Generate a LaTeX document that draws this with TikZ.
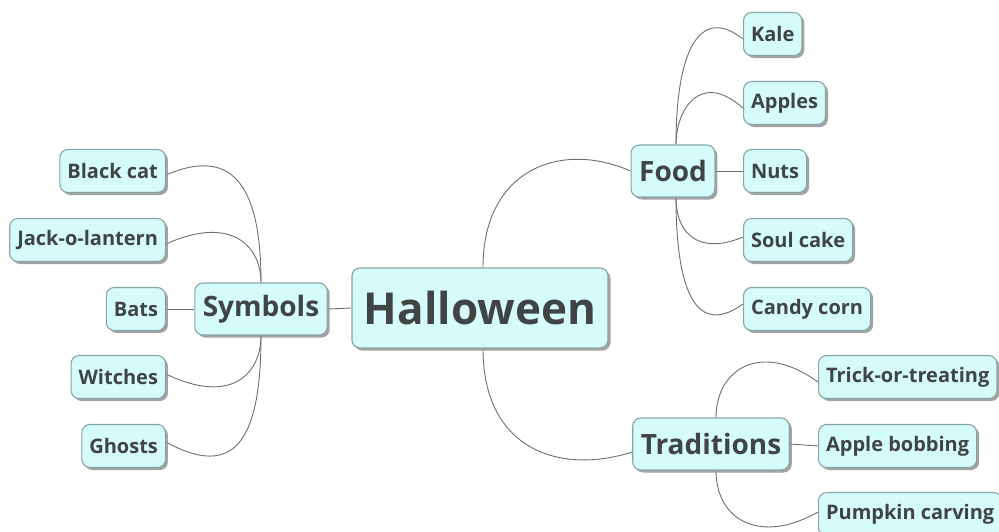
\documentclass[tikz,border=0pt]{standalone}
\usepackage{fontspec}
\setmainfont{Open Sans}
\usetikzlibrary{shadows,backgrounds}
\definecolor{boxfill}{HTML}{D6FBFB}
\definecolor{boxline}{HTML}{86A6A6}
\definecolor{txt}{HTML}{404444}
\definecolor{conn}{HTML}{6E6E6E}
\tikzset{
  box/.style={draw=boxline, fill=boxfill, line width=1.1pt, rounded corners=8pt,
    text=txt, font=\bfseries, inner ysep=0pt,
    drop shadow={shadow xshift=2.5pt, shadow yshift=-2.5pt, fill=black!45, opacity=0.8}},
  root/.style={box, font=\fontsize{44}{48}\bfseries\selectfont, minimum height=80pt, inner xsep=12pt},
  mainb/.style={box, font=\fontsize{28}{31}\bfseries\selectfont, minimum height=52pt, inner xsep=8pt},
  leaf/.style={box, font=\fontsize{20}{23}\bfseries\selectfont, minimum height=43pt, inner xsep=7.5pt},
  link/.style={draw=conn, line width=0.9pt}
}
\begin{document}
\begin{tikzpicture}[x=1pt,y=-1pt]
\useasboundingbox (0,0) rectangle (999,531);
\node[root] (hal) at (480,308) {Halloween};
\node[mainb] (sym) at (261,309) {Symbols};
\node[mainb] (food) at (673,171) {Food};
\node[mainb] (trad) at (711,444) {Traditions};

\node[leaf, anchor=east] (cat) at (166,171) {Black cat};
\node[leaf, anchor=east] (jack) at (166,240) {Jack-o-lantern};
\node[leaf, anchor=east] (bats) at (166,309) {Bats};
\node[leaf, anchor=east] (witch) at (166,377) {Witches};
\node[leaf, anchor=east] (ghost) at (166,446) {Ghosts};

\node[leaf, anchor=west] (kale) at (743,34) {Kale};
\node[leaf, anchor=west] (apples) at (743,103) {Apples};
\node[leaf, anchor=west] (nuts) at (743,171) {Nuts};
\node[leaf, anchor=west] (soul) at (743,240) {Soul cake};
\node[leaf, anchor=west] (candy) at (743,309) {Candy corn};

\node[leaf, anchor=west] (trick) at (818,377) {Trick-or-treating};
\node[leaf, anchor=west] (bob) at (818,446) {Apple bobbing};
\node[leaf, anchor=west] (pump) at (818,514) {Pumpkin carving};

\begin{scope}[on background layer]
\draw[link] (hal.west) -- (sym.east);
\draw[link] ([xshift=3pt]hal.north) .. controls (483,170) and (560,140) .. (food.west);
\draw[link] ([xshift=3pt]hal.south) .. controls (483,450) and (560,475) .. ([yshift=-8pt]trad.west);
% symbols
\draw[link] (sym.north) .. controls (261,190) and (235,145) .. ([yshift=-4pt]cat.east);
\draw[link] (sym.north) .. controls (261,245) and (230,215) .. ([yshift=-4pt]jack.east);
\draw[link] (sym.west) -- (bats.east);
\draw[link] (sym.south) .. controls (261,375) and (230,405) .. ([yshift=3pt]witch.east);
\draw[link] (sym.south) .. controls (261,440) and (235,480) .. ([yshift=4pt]ghost.east);
% food
\draw[link] ([xshift=3pt]food.north) .. controls (676,50) and (700,5) .. ([yshift=-5pt]kale.west);
\draw[link] ([xshift=3pt]food.north) .. controls (676,110) and (700,70) .. ([yshift=-5pt]apples.west);
\draw[link] (food.east) -- (nuts.west);
\draw[link] ([xshift=3pt]food.south) .. controls (676,235) and (700,255) .. ([yshift=3pt]soul.west);
\draw[link] ([xshift=3pt]food.south) .. controls (676,300) and (700,335) .. ([yshift=5pt]candy.west);
% traditions
\draw[link] ([xshift=5pt]trad.north) .. controls (716,370) and (760,340) .. ([yshift=-5pt]trick.west);
\draw[link] (trad.east) -- (bob.west);
\draw[link] ([xshift=5pt]trad.south) .. controls (716,520) and (760,545) .. ([yshift=2pt]pump.west);
\end{scope}
\end{tikzpicture}
\end{document}
